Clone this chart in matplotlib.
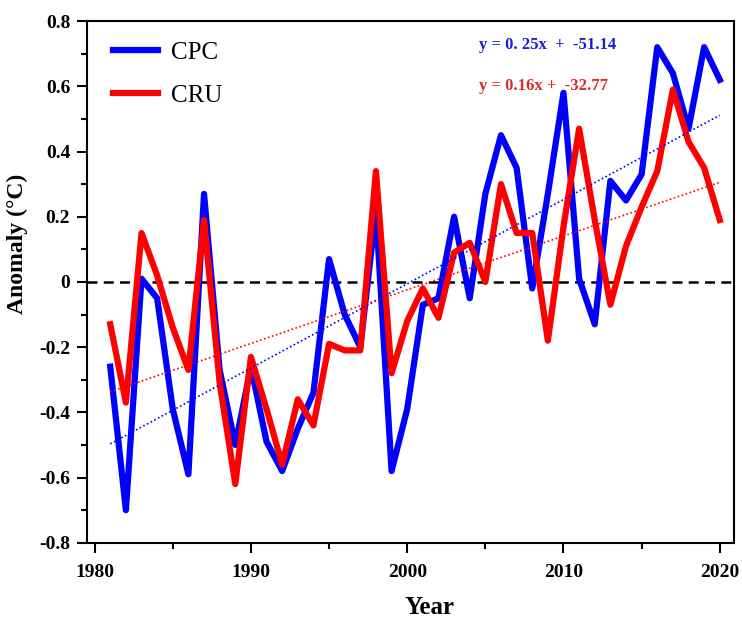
import numpy as np
import matplotlib
matplotlib.use('Agg')
import matplotlib.pyplot as plt
from matplotlib.ticker import MultipleLocator

plt.rcParams['font.family'] = ['Liberation Serif', 'DejaVu Serif']

# データ
years = np.arange(1981, 2021)
cpc = [-0.26, -0.70, 0.01, -0.05, -0.39, -0.59, 0.27, -0.27, -0.50, -0.26,
       -0.49, -0.58, -0.45, -0.34, 0.07, -0.10, -0.20, 0.22, -0.58, -0.39,
       -0.07, -0.05, 0.20, -0.05, 0.27, 0.45, 0.35, -0.02, 0.27, 0.58,
       0.01, -0.13, 0.31, 0.25, 0.33, 0.72, 0.64, 0.47, 0.72, 0.62]
cru = [-0.13, -0.37, 0.15, 0.02, -0.14, -0.27, 0.19, -0.31, -0.62, -0.23,
       -0.39, -0.56, -0.36, -0.44, -0.19, -0.21, -0.21, 0.34, -0.28, -0.12,
       -0.02, -0.11, 0.09, 0.12, 0.00, 0.30, 0.15, 0.15, -0.18, 0.17,
       0.47, 0.19, -0.07, 0.11, 0.23, 0.34, 0.59, 0.43, 0.35, 0.19]
eq_cpc = 'y = 0. 25x  +  -51.14'
eq_cru = 'y = 0.16x +  -32.77'

fig = plt.figure(figsize=(7.42, 6.21), dpi=100)
ax = fig.add_axes([0.117, 0.126, 0.872, 0.840])

ax.axhline(0, color='black', lw=1.8, ls=(0, (4, 2.5)), zorder=1)
ax.plot(years, cpc, color='blue', lw=4.5, label='CPC', zorder=2)
ax.plot(years, cru, color='red', lw=4.5, label='CRU', zorder=3)

# 線形トレンド
for vals, col in [(cpc, 'blue'), (cru, 'red')]:
    k, b = np.polyfit(years, vals, 1)
    ax.plot(years, k * years + b, color=col, lw=1.2, ls=(0, (1, 1.5)), zorder=4)

ax.text(0.606, 0.954, eq_cpc, transform=ax.transAxes, color='#1a1ad8',
        fontsize=12, fontweight='bold', va='center')
ax.text(0.606, 0.875, eq_cru, transform=ax.transAxes, color='#e02828',
        fontsize=12, fontweight='bold', va='center')

ax.set_xlim(1979.5, 2020.9)
ax.set_ylim(-0.8, 0.8)
ax.xaxis.set_major_locator(MultipleLocator(10))
ax.xaxis.set_minor_locator(MultipleLocator(5))
ax.yaxis.set_minor_locator(MultipleLocator(0.1))
ax.set_yticks(np.arange(-0.8, 0.81, 0.2))
ax.set_yticklabels(['-0.8', '-0.6', '-0.4', '-0.2', '0', '0.2', '0.4', '0.6', '0.8'])
ax.tick_params(which='major', direction='out', length=7, width=1.5,
               labelsize=14, pad=5)
ax.tick_params(axis='x', which='major', pad=8)
ax.tick_params(which='minor', direction='out', length=4.5, width=1.5)
for lab in ax.get_xticklabels() + ax.get_yticklabels():
    lab.set_fontweight('bold')
for sp in ax.spines.values():
    sp.set_linewidth(1.5)

ax.set_xlabel('Year', fontsize=18, fontweight='bold', x=0.53, labelpad=11)
ax.set_ylabel('Anomaly (°C)', fontsize=17, fontweight='bold', y=0.573, labelpad=8)

ax.legend(loc='upper left', bbox_to_anchor=(0.014, 0.994), frameon=False,
          fontsize=18, handlelength=1.8, handletextpad=0.5, labelspacing=0.8,
          borderaxespad=0.3)

fig.savefig('out.png', dpi=100)
